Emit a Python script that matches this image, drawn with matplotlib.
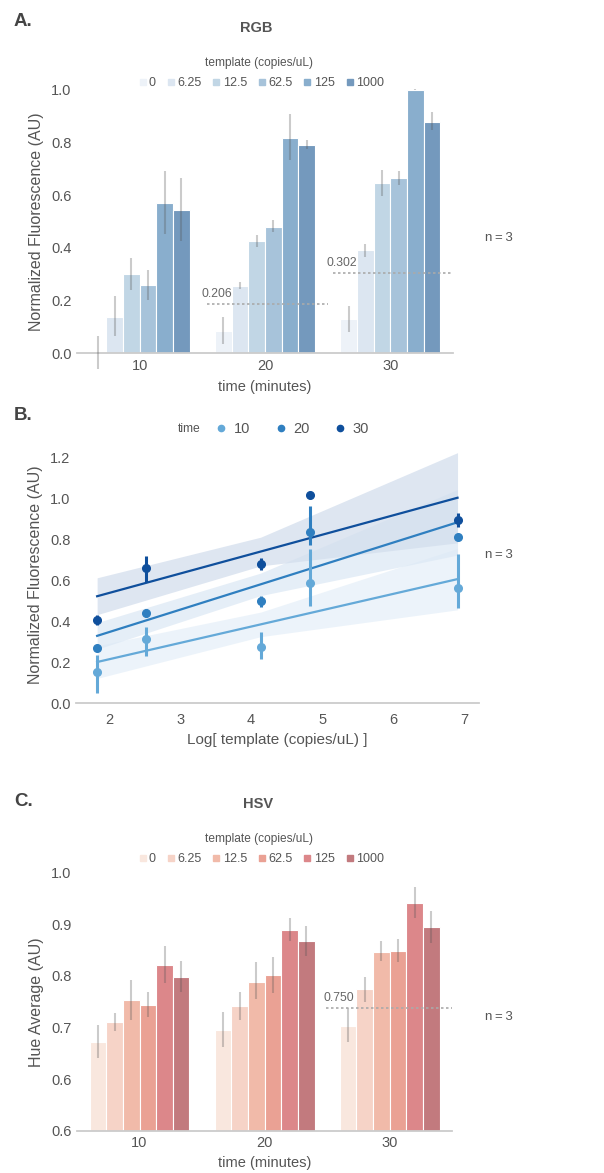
import matplotlib
matplotlib.use("Agg")
import matplotlib.pyplot as plt
import numpy as np
from matplotlib.lines import Line2D

plt.rcParams["font.family"] = ["Liberation Sans", "DejaVu Sans"]

W, H = 604, 1173

times = ["10", "20", "30"]
templates = ["0", "6.25", "12.5", "62.5", "125", "1000"]

# panel A: RGB normalized fluorescence, rows = time, cols = template
rgb_mean = [[0.005, 0.139, 0.302, 0.260, 0.572, 0.545],
            [0.085, 0.257, 0.426, 0.481, 0.818, 0.790],
            [0.129, 0.391, 0.647, 0.665, 1.000, 0.878]]
rgb_lo = [[-0.060, 0.067, 0.242, 0.204, 0.454, 0.425],
          [0.035, 0.244, 0.404, 0.460, 0.735, 0.776],
          [0.082, 0.366, 0.597, 0.640, 0.998, 0.847]]
rgb_hi = [[0.065, 0.217, 0.360, 0.318, 0.690, 0.666],
          [0.136, 0.271, 0.450, 0.507, 0.907, 0.808],
          [0.180, 0.416, 0.697, 0.690, 1.002, 0.915]]
rgb_thresh = [0.188, 0.306]
rgb_thresh_labels = ["0.206", "0.302"]

# panel B: regression vs log template (template > 0 only)
b_templates = [6.25, 12.5, 62.5, 125, 1000]
b_mean = {"10": [0.151, 0.315, 0.274, 0.588, 0.561],
          "20": [0.269, 0.441, 0.497, 0.837, 0.809],
          "30": [0.405, 0.661, 0.681, 1.017, 0.895]}
b_lo = {"10": [0.052, 0.233, 0.217, 0.476, 0.464],
        "20": [0.255, 0.420, 0.470, 0.770, 0.795],
        "30": [0.380, 0.591, 0.650, 1.010, 0.860]}
b_hi = {"10": [0.238, 0.372, 0.350, 0.752, 0.730],
        "20": [0.283, 0.462, 0.522, 0.960, 0.823],
        "30": [0.430, 0.718, 0.710, 1.024, 0.930]}
# half width of the confidence band at the 6.25, 62.5 and 1000 templates
b_band_idx = [0, 2, 4]
b_band = {"10": [0.080, 0.060, 0.150],
          "20": [0.065, 0.055, 0.160],
          "30": [0.090, 0.070, 0.220]}

# panel C: HSV hue average
hsv_mean = [[0.671, 0.710, 0.753, 0.744, 0.821, 0.798],
            [0.696, 0.742, 0.789, 0.802, 0.888, 0.867],
            [0.703, 0.774, 0.847, 0.848, 0.942, 0.894]]
hsv_lo = [[0.640, 0.694, 0.715, 0.720, 0.787, 0.769],
          [0.662, 0.715, 0.755, 0.767, 0.868, 0.839],
          [0.672, 0.750, 0.828, 0.826, 0.912, 0.863]]
hsv_hi = [[0.704, 0.728, 0.793, 0.769, 0.857, 0.829],
          [0.731, 0.769, 0.826, 0.837, 0.912, 0.897],
          [0.737, 0.798, 0.868, 0.871, 0.972, 0.926]]
hsv_thresh = 0.737
hsv_thresh_label = "0.750"

blues = ["#edf2f8", "#dce6f1", "#c1d6e5", "#a7c3da", "#89aecd", "#7499bd"]
reds = ["#f9e7de", "#f6d3c7", "#f1baa9", "#eaa194", "#dc878a", "#c27a7e"]
b_colors = {"10": "#64a9d8", "20": "#2f7fc0", "30": "#0f4f9c"}
band_colors = {"10": "#e6f0f9", "20": "#dde9f5", "30": "#d3deed"}

TXT = "#555555"
SPINE = "#cccccc"
TICK = 10.5


def fx(px):
    return px / W


def fy(px):
    return 1 - px / H


def style_axes(ax, pad=4):
    for s in ["top", "right", "left"]:
        ax.spines[s].set_visible(False)
    ax.spines["bottom"].set_color(SPINE)
    ax.spines["bottom"].set_linewidth(1.3)
    ax.tick_params(length=0, labelsize=TICK, colors=TXT, pad=4)
    ax.tick_params(axis="x", pad=pad)


def bar_panel(ax, mean, lo, hi, colors, labelpad):
    mean = np.array(mean)
    lo = np.array(lo)
    hi = np.array(hi)
    n = len(templates)
    width = 0.8 / n
    x = np.arange(len(times))
    for j in range(n):
        xs = x - 0.4 + width * (j + 0.5)
        ax.bar(xs, mean[:, j], width, color=colors[j], edgecolor="white", linewidth=0.8, zorder=2)
        ax.vlines(xs, lo[:, j], hi[:, j], color="#555555", alpha=0.3, linewidth=1.5, zorder=3, clip_on=False)
    ax.set_xticks(x)
    ax.set_xticklabels(times)
    ax.set_xlim(-0.5, 2.5)
    ax.set_xlabel("time (minutes)", fontsize=10.5, color=TXT, labelpad=labelpad)


def template_legend(colors, title_y, row_y):
    handles = [Line2D([], [], marker="s", linestyle="none", markersize=4,
                      markerfacecolor=c, markeredgecolor=c) for c in colors]
    fig.text(fx(259), fy(title_y), "template (copies/uL)", ha="center", va="center", fontsize=8.6, color=TXT)
    fig.legend(handles, templates, loc="center", bbox_to_anchor=(fx(262), fy(row_y)), ncol=6,
               frameon=False, handlelength=0.4, handletextpad=0.3, columnspacing=1.0,
               fontsize=9, labelcolor=TXT)


fig = plt.figure(figsize=(W / 100, H / 100), dpi=100)

# ---- A ----
axA = fig.add_axes([fx(77), fy(353.3), fx(453 - 77), (353.3 - 89.8) / H])
style_axes(axA)
bar_panel(axA, rgb_mean, rgb_lo, rgb_hi, blues, labelpad=5)
axA.set_ylim(0, 1.0)
axA.set_yticks([0.0, 0.2, 0.4, 0.6, 0.8, 1.0])
axA.set_yticklabels(["0.0", "0.2", "0.4", "0.6", "0.8", "1.0"])
axA.set_ylabel("Normalized Fluorescence (AU)", fontsize=11.5, color=TXT, labelpad=5)
for k, (val, lab) in enumerate(zip(rgb_thresh, rgb_thresh_labels)):
    g = k + 1
    axA.hlines(val, g - 0.46, g + 0.5, colors="#aaaaaa", linestyles=(0, (1.5, 1.5)), linewidth=1.2, zorder=4)
    axA.text(g - 0.51, val + 0.015, lab, ha="left", va="bottom", fontsize=8.8, color="#666666")
fig.text(fx(14), fy(22), "A.", fontsize=13.5, fontweight="bold", color="#444444", va="center")
fig.text(fx(256), fy(28), "RGB", fontsize=10.5, fontweight="bold", color="#555555", ha="center", va="center")
template_legend(blues, 63, 83)
fig.text(fx(485), fy(238), "n\u2009=\u20093", fontsize=9.5, color=TXT, va="center")

# ---- B ----
axB = fig.add_axes([fx(76), fy(703.3), fx(479 - 76), 1.25 * 205 / H])
style_axes(axB, pad=7)
xb = np.log(b_templates)
for t in times:
    m = np.array(b_mean[t])
    slope, icpt = np.polyfit(xb, m, 1)
    xs = xb[b_band_idx]
    fit = slope * xs + icpt
    band = np.array(b_band[t])
    axB.fill_between(xs, fit - band, fit + band, color=band_colors[t], alpha=0.75, linewidth=0, zorder=1)
    axB.plot(xb[[0, -1]], slope * xb[[0, -1]] + icpt, color=b_colors[t], linewidth=1.6, zorder=3)
    axB.vlines(xb, b_lo[t], b_hi[t], color=b_colors[t], linewidth=2.2, zorder=4)
    axB.plot(xb, m, "o", color=b_colors[t], markersize=5.5, zorder=5)
axB.set_xlim(1.535, 7.21)
axB.set_ylim(0, 1.25)
axB.set_xticks([2, 3, 4, 5, 6, 7])
axB.set_yticks([0.0, 0.2, 0.4, 0.6, 0.8, 1.0, 1.2])
axB.set_yticklabels(["0.0", "0.2", "0.4", "0.6", "0.8", "1.0", "1.2"])
axB.set_ylabel("Normalized Fluorescence (AU)", fontsize=11.5, color=TXT, labelpad=5)
axB.set_xlabel("Log[ template (copies/uL) ]", fontsize=11, color=TXT, labelpad=4)
fig.text(fx(14), fy(415), "B.", fontsize=13.5, fontweight="bold", color="#444444", va="center")
fig.text(fx(178), fy(429), "time", fontsize=8.7, color=TXT, va="center")
hB = [Line2D([], [], marker="o", linestyle="none", markersize=4.5, color=b_colors[t]) for t in times]
fig.legend(hB, times, loc="center", bbox_to_anchor=(fx(293), fy(429)), ncol=3, frameon=False,
           handlelength=0.6, handletextpad=0.55, columnspacing=1.8, fontsize=10.5, labelcolor=TXT)
fig.text(fx(485), fy(555), "n\u2009=\u20093", fontsize=9.5, color=TXT, va="center")

# ---- C ----
axC = fig.add_axes([fx(77), fy(1130.7), fx(452 - 77), (1130.7 - 872.7) / H])
style_axes(axC)
bar_panel(axC, hsv_mean, hsv_lo, hsv_hi, reds, labelpad=4)
axC.set_ylim(0.5, 1.0)
axC.set_yticks([0.5, 0.6, 0.7, 0.8, 0.9, 1.0])
axC.set_yticklabels(["0.6", "0.6", "0.7", "0.8", "0.9", "1.0"])
axC.set_ylabel("Hue Average (AU)", fontsize=11.5, color=TXT, labelpad=5)
axC.hlines(hsv_thresh, 1.49, 2.5, colors="#aaaaaa", linestyles=(0, (1.5, 1.5)), linewidth=1.2, zorder=4)
axC.text(1.47, hsv_thresh + 0.008, hsv_thresh_label, ha="left", va="bottom", fontsize=8.8, color="#666666")
fig.text(fx(14), fy(802), "C.", fontsize=13.5, fontweight="bold", color="#444444", va="center")
fig.text(fx(258), fy(804), "HSV", fontsize=10.5, fontweight="bold", color="#555555", ha="center", va="center")
template_legend(reds, 839, 859)
fig.text(fx(485), fy(1017), "n\u2009=\u20093", fontsize=9.5, color=TXT, va="center")

fig.savefig("out.png", dpi=100)
